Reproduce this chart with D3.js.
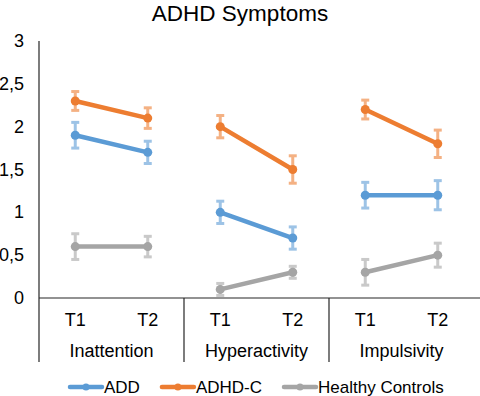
<!DOCTYPE html>
<html>
<head>
<meta charset="utf-8">
<script src="https://cdn.jsdelivr.net/npm/d3@7"></script>
<style>
  body { margin: 0; background: #fff; }
  text { font-family: "Liberation Sans", Arial, sans-serif; fill: #000; }
</style>
</head>
<body>
<div class="container"></div>
<script>
const w = 480;
const h = 396;

const groups = ['Inattention', 'Hyperactivity', 'Impulsivity'];
const times = ['T1', 'T2'];
const seriesNames = ['ADD', 'ADHD-C', 'Healthy Controls'];
const yTicks = [0, 0.5, 1, 1.5, 2, 2.5, 3];

// values per group: [T1, T2]
const addValues = [[1.9, 1.7], [1.0, 0.7], [1.2, 1.2]];
const adhdcValues = [[2.3, 2.1], [2.0, 1.5], [2.2, 1.8]];
const hcValues = [[0.6, 0.6], [0.1, 0.3], [0.3, 0.5]];

// error bar half-widths
const addErr = [[0.15, 0.13], [0.13, 0.13], [0.15, 0.17]];
const adhdcErr = [[0.11, 0.12], [0.13, 0.16], [0.11, 0.16]];
const hcErr = [[0.15, 0.12], [0.07, 0.07], [0.15, 0.14]];

const colors = ['#5B9BD5', '#ED7D31', '#A5A5A5'];
const errColors = ['#9DC3E6', '#F4B183', '#C9C9C9'];

const plotLeft = 39;
const plotRight = 474;
const plotTop = 41;
const base = 298;
const axisBottom = 362;

let svg = null;

window.onload = function () {
  svg = d3.select('.container').append('svg')
    .attr('width', w)
    .attr('height', h);
  draw();
};

function draw() {
  const x0 = d3.scaleBand().domain(groups).range([plotLeft, plotRight]);
  const x1 = d3.scalePoint().domain(times).range([0, x0.bandwidth()]).padding(0.5);
  const y = d3.scaleLinear().domain([0, 3]).range([base, plotTop]);
  const xPos = (g, t) => x0(g) + x1(t);

  // title
  svg.append('text')
    .attr('x', 240).attr('y', 21)
    .attr('text-anchor', 'middle')
    .attr('font-size', 22.5)
    .text('ADHD Symptoms');

  // y tick labels
  svg.selectAll('.ytick')
    .data(yTicks)
    .enter()
    .append('text')
    .attr('class', 'ytick')
    .attr('x', 24)
    .attr('y', (d) => y(d) + 6)
    .attr('text-anchor', 'end')
    .attr('font-size', 18)
    .text((d) => String(d).replace('.', ','));

  // axes lines
  const axisColor = '#262626';
  svg.append('line')
    .attr('x1', plotLeft).attr('x2', plotLeft)
    .attr('y1', plotTop).attr('y2', axisBottom)
    .attr('stroke', axisColor).attr('stroke-width', 1.2);
  svg.append('line')
    .attr('x1', plotLeft).attr('x2', w)
    .attr('y1', base).attr('y2', base)
    .attr('stroke', axisColor).attr('stroke-width', 1.2);
  svg.selectAll('.sep')
    .data(groups.slice(1))
    .enter()
    .append('line')
    .attr('class', 'sep')
    .attr('x1', (g) => x0(g)).attr('x2', (g) => x0(g))
    .attr('y1', base).attr('y2', axisBottom)
    .attr('stroke', axisColor).attr('stroke-width', 1.2);

  // category labels
  groups.forEach((g) => {
    svg.selectAll(null)
      .data(times)
      .enter()
      .append('text')
      .attr('x', (t) => xPos(g, t))
      .attr('y', 326)
      .attr('text-anchor', 'middle')
      .attr('font-size', 18)
      .text((t) => t);
  });
  svg.selectAll('.glabel')
    .data(groups)
    .enter()
    .append('text')
    .attr('class', 'glabel')
    .attr('x', (g) => x0(g) + x0.bandwidth() / 2)
    .attr('y', 357)
    .attr('text-anchor', 'middle')
    .attr('font-size', 18)
    .text((g) => g);

  // series
  const allValues = [addValues, adhdcValues, hcValues];
  const allErr = [addErr, adhdcErr, hcErr];
  const line = d3.line().x((d) => d.x).y((d) => d.y);

  allValues.forEach((vals, s) => {
    groups.forEach((g, gi) => {
      const pts = times.map((t, ti) => ({
        x: xPos(g, t),
        v: vals[gi][ti],
        e: allErr[s][gi][ti],
        y: y(vals[gi][ti]),
      }));

      // error bars
      const eb = svg.append('g')
        .attr('stroke', errColors[s])
        .attr('stroke-width', 3);
      pts.forEach((p) => {
        eb.append('line')
          .attr('x1', p.x).attr('x2', p.x)
          .attr('y1', y(p.v + p.e)).attr('y2', y(p.v - p.e));
        [p.v + p.e, p.v - p.e].forEach((c) => {
          eb.append('line')
            .attr('x1', p.x - 4).attr('x2', p.x + 4)
            .attr('y1', y(c)).attr('y2', y(c));
        });
      });

      svg.append('path')
        .datum(pts)
        .attr('d', line)
        .attr('fill', 'none')
        .attr('stroke', colors[s])
        .attr('stroke-width', 4.5)
        .attr('stroke-linecap', 'round');

      svg.selectAll(null)
        .data(pts)
        .enter()
        .append('circle')
        .attr('cx', (d) => d.x)
        .attr('cy', (d) => d.y)
        .attr('r', 4.5)
        .attr('fill', colors[s]);
    });
  });

  // legend
  const legend = svg.append('g').attr('transform', 'translate(70, 387)');
  let lx = 0;
  seriesNames.forEach((name, i) => {
    const item = legend.append('g').attr('transform', `translate(${lx}, 0)`);
    item.append('line')
      .attr('x1', 0).attr('x2', 32)
      .attr('y1', 0).attr('y2', 0)
      .attr('stroke', colors[i])
      .attr('stroke-width', 4.5)
      .attr('stroke-linecap', 'round');
    item.append('circle')
      .attr('cx', 16).attr('cy', 0).attr('r', 3.5)
      .attr('fill', colors[i]);
    const t = item.append('text')
      .attr('x', 34)
      .attr('y', 6)
      .attr('font-size', 17)
      .text(name);
    lx += 34 + t.node().getComputedTextLength() + 22;
  });
}
</script>
</body>
</html>
